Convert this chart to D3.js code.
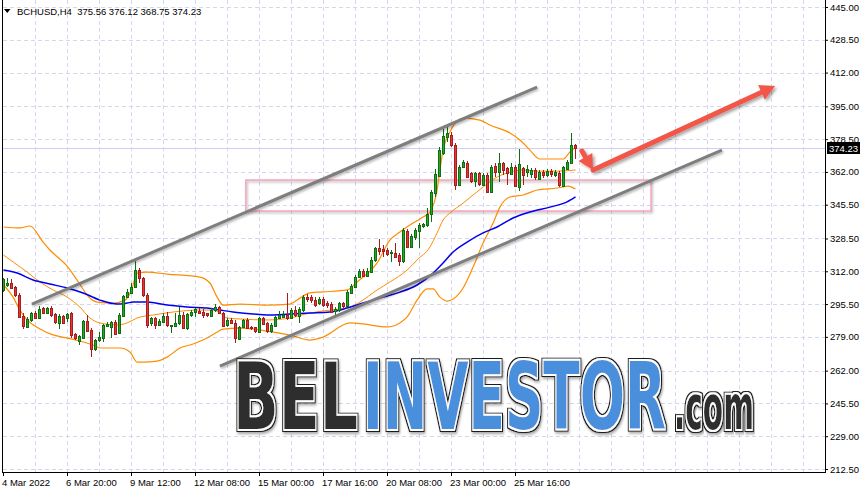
<!DOCTYPE html>
<html><head><meta charset="utf-8">
<script src="https://cdn.jsdelivr.net/npm/d3@7"></script>
<style>html,body{margin:0;padding:0;background:#fff;overflow:hidden}svg{display:block}</style>
</head><body><svg id="c" width="866" height="493"></svg>
<script>
const symbolTitle = "BCHUSD,H4";
const lastQuote = ["375.56", "376.12", "368.75", "374.23"];
const lastPrice = 374.23;

const opens = [302.2,305.3,306.3,303.9,300.1,289.6,284.1,287.5,291.2,288.6,293.7,291.2,293.7,290.3,285.8,289.6,288.6,290.8,280.4,276.9,
278.7,287.1,282.4,272.7,277.1,278.2,284.5,284.1,286.6,281.1,289.5,299.2,301.2,303.9,312.6,308.4,300.1,285.8,288.3,285.3,
286.6,289.5,284.4,284.4,285.8,290.0,283.3,290.0,291.2,292.2,291.7,290.8,289.5,292.2,293.8,291.2,284.9,287.5,285.8,278.2,
284.1,287.5,283.8,283.8,281.6,288.6,285.8,281.9,284.4,288.3,289.1,290.0,288.3,292.5,289.5,292.5,299.2,298.9,297.8,295.8,
298.3,296.2,295.5,291.6,292.5,296.2,294.7,301.2,304.2,309.3,312.1,309.8,311.8,317.7,323.9,323.0,322.7,321.0,321.3,320.2,
317.3,332.4,324.4,329.4,332.4,334.8,335.3,340.8,351.8,359.9,371.4,379.4,380.6,375.5,355.7,364.6,366.7,361.3,357.1,361.3,
355.4,360.4,352.0,365.0,362.1,366.7,363.8,361.3,364.6,354.6,363.8,361.6,361.0,363.0,358.8,362.1,360.4,362.6,360.4,361.3,
354.9,363.8,366.3,375.56];
const highs = [308.5,308.4,307.9,304.6,300.9,290.8,289.1,291.7,292.2,294.5,293.8,294.2,294.5,291.2,290.3,290.0,291.2,291.7,281.1,279.9,
287.5,290.0,283.3,277.7,281.6,285.3,286.6,287.1,287.5,290.8,300.1,302.9,305.9,317.3,313.5,309.3,300.9,289.1,289.1,287.8,
291.2,291.7,285.0,290.8,294.2,291.7,290.8,292.5,293.3,293.3,292.8,291.2,293.3,295.4,294.5,291.7,288.3,288.3,287.5,284.4,
287.8,288.3,284.4,284.1,289.1,289.1,286.6,285.8,289.5,292.0,292.0,301.2,293.3,294.5,294.2,300.0,300.4,300.0,299.2,299.2,
299.2,297.2,296.7,294.2,296.7,296.7,302.6,305.6,310.1,313.0,313.0,313.5,319.3,324.4,328.1,325.2,323.5,322.7,326.0,321.3,
333.6,333.1,330.7,333.6,336.1,336.1,343.7,352.9,363.5,374.7,384.8,385.6,382.3,376.4,365.5,368.0,367.7,362.1,362.1,362.1,
361.3,361.3,365.5,366.3,371.4,367.2,364.6,366.3,365.5,373.4,364.6,365.5,363.8,363.8,363.0,363.0,363.3,363.3,363.0,362.6,
365.0,368.0,381.8,376.12];
const lows = [301.7,304.3,303.4,299.2,288.3,282.8,283.8,286.6,287.8,288.3,290.8,290.3,289.1,285.5,283.0,285.5,286.6,278.2,277.4,274.9,
278.2,281.6,269.0,272.0,276.6,276.6,283.8,278.2,279.9,280.8,289.1,298.9,300.9,303.4,305.9,299.2,283.3,284.4,282.8,284.4,
285.8,284.1,280.8,284.1,284.9,282.8,282.4,289.1,289.1,290.5,288.3,289.1,289.1,291.5,290.5,284.4,284.1,285.3,276.0,277.7,
283.8,282.8,282.4,280.8,280.8,285.3,281.1,281.1,284.1,287.8,288.3,287.5,287.8,289.1,285.8,291.6,296.7,296.2,294.2,295.0,
294.2,293.3,290.8,289.5,291.6,293.3,294.2,300.5,303.9,308.4,309.3,309.3,311.3,316.8,320.2,319.3,319.7,316.8,318.5,314.6,
316.3,323.5,323.5,327.7,323.5,333.6,334.4,336.9,349.5,359.6,370.5,377.2,374.7,352.9,354.9,363.8,358.8,356.3,354.2,354.9,
354.9,351.2,351.5,359.6,357.1,360.4,355.4,360.4,354.2,352.6,355.4,359.6,358.8,357.9,357.9,358.8,359.3,359.3,359.3,354.6,
354.2,363.0,366.0,368.75];
const closes = [307.9,306.3,303.9,299.7,289.1,284.5,288.0,291.2,288.6,293.1,291.2,293.7,290.3,286.1,289.5,286.1,290.5,279.9,278.2,279.4,
287.1,282.1,272.7,277.4,278.7,284.9,285.5,286.6,280.8,290.0,299.5,301.7,304.3,312.6,308.4,299.7,285.0,288.3,284.9,287.1,
289.5,284.9,284.9,286.1,290.0,283.3,290.3,291.7,292.8,291.2,290.3,290.0,292.5,293.8,290.8,284.9,287.5,285.8,278.2,284.1,
287.5,283.6,283.1,281.6,288.6,285.8,281.9,284.9,289.1,290.0,290.0,288.3,292.5,290.0,292.8,299.2,298.0,297.5,295.5,298.0,
295.5,295.0,291.6,292.8,295.8,294.7,301.7,304.6,309.3,312.1,309.8,312.1,317.7,323.5,322.3,321.8,320.7,321.5,319.3,317.3,
332.8,324.4,329.7,332.8,335.3,335.8,340.6,352.0,361.2,373.0,380.1,381.4,375.5,355.4,364.6,367.2,359.6,357.1,361.3,355.7,
360.4,351.6,364.6,362.1,366.7,363.0,361.3,364.6,354.9,366.0,360.4,363.3,363.0,359.6,362.1,360.4,362.6,360.9,362.1,355.4,
364.6,367.2,375.5,374.23];

const xTickBars = [0, 16, 32, 48, 64, 80, 96, 112, 128];
const xTickLabels = ["4 Mar 2022", "6 Mar 20:00", "9 Mar 12:00", "12 Mar 08:00", "15 Mar 00:00",
  "17 Mar 16:00", "20 Mar 08:00", "23 Mar 00:00", "25 Mar 16:00"];
const yTickLabels = ["445.00", "428.50", "412.00", "395.00", "378.50", "362.00", "345.50", "328.50",
  "312.00", "295.50", "279.00", "262.00", "245.50", "229.00", "212.50"];

// Bollinger bands (bar index, price)
const bbUpper = [[0,334.3],[4.1,333.8],[6.6,334.8],[9.9,326.7],[11.6,322.7],[15.9,314.6],[18.4,307.6],[21.6,298.5],
  [23.4,296.5],[27.4,296.0],[30.4,297.5],[32,302.6],[33.4,311.1],[35.9,311.6],[40.9,310.6],[49.1,309.1],[51.6,306.1],
  [53.4,299.0],[54.9,295.0],[59.1,295.5],[65.9,295.0],[71.6,295.5],[74.1,298.5],[76.6,301.1],[79.9,301.6],[85.9,302.6],
  [88.4,306.6],[93.4,316.2],[96.6,327.7],[99.1,331.8],[102.4,336.3],[104.9,339.3],[106.6,341.8],[108.4,352.9],
  [109.1,363.0],[109.9,373.0],[111.6,382.1],[114.9,389.1],[119.1,388.1],[121.6,385.6],[126.6,381.6],[129.1,378.1],
  [131.6,373.0],[134.1,368.5],[139.9,368.5],[141.6,372.0],[143,374.5]];
const bbMiddle = [[0,320.2],[2.4,316.7],[5.9,311.6],[9.1,306.6],[12.4,302.6],[15.9,299.0],[19.1,294.0],[21.6,288.5],
  [24.1,286.0],[28.4,285.0],[30.9,286.0],[33.4,288.5],[37.4,290.0],[42.4,291.5],[49.1,292.5],[52.4,292.5],[54.1,291.0],
  [55.9,288.5],[59.1,288.0],[65.9,287.5],[71.6,288.5],[76.6,291.0],[81.6,292.5],[86.6,294.0],[89.1,296.5],[93.4,302.6],
  [96.6,306.6],[100.9,312.6],[103.4,317.7],[106.6,324.2],[108.4,331.3],[109.9,337.8],[111.6,341.3],[114.9,346.3],
  [117.4,350.4],[119.9,354.4],[123.4,359.4],[126.6,361.9],[129.9,363.0],[133.4,362.4],[138.4,362.4],[143,363.0]];
const bbLower = [[0,305.1],[2.4,299.0],[4.1,292.5],[5.9,287.5],[9.1,283.0],[12.4,280.0],[15.9,278.4],[19.1,276.9],
  [22.4,274.9],[24.1,273.4],[29.1,273.4],[31.6,271.4],[33.4,266.3],[34.9,266.3],[38.4,266.8],[40.9,268.8],[44.1,273.4],
  [47.4,275.4],[50.9,278.4],[53.4,281.4],[54.9,282.9],[59.1,283.4],[65.9,281.9],[71.6,279.9],[76.6,277.4],[79.9,278.9],
  [86.6,286.0],[89.9,285.5],[95.9,284.0],[99.1,286.0],[100.9,289.0],[103.4,297.5],[105.9,303.1],[107.4,303.1],
  [109.1,299.0],[110.9,297.0],[112.4,298.0],[114.9,303.6],[117.4,314.1],[119.9,326.2],[122.4,336.3],[124.1,344.3],
  [126.6,349.4],[129.9,350.4],[133.4,352.9],[138.4,353.9],[139.9,354.4],[141.1,354.9],[143,353.4]];
// Moving average (blue)
const maLine = [[0,312.6],[3.4,311.1],[7.4,307.6],[11.6,305.6],[15.9,303.6],[19.9,301.1],[24.1,297.5],[28.4,295.5],
  [30.9,296.0],[32.4,296.5],[35.9,296.5],[40.9,295.0],[45.9,294.0],[50.9,293.5],[54.1,292.5],[57.4,291.5],[62.4,290.5],
  [65.9,290.0],[71.6,290.5],[76.6,291.0],[81.6,291.5],[85.9,293.5],[89.9,296.0],[94.9,299.0],[99.1,301.5],[103.4,305.1],
  [107.4,311.1],[109.9,316.2],[112.4,321.7],[115.9,326.7],[119.9,331.3],[123.4,334.3],[127.4,338.8],[131.6,341.8],
  [136.6,344.3],[140.9,346.9],[143,349.4]];

// drawn objects (bar index, price)
const channelUpper = [[7.1, 295.5], [133.4, 404.7]];
const channelLower = [[54.1, 264.3], [179.6, 373.0]];
const zoneBars = [60.6, 161.9];
const zonePrices = [342.3, 357.9];
const arrowPts = [[144.6, 372.5], [147.4, 363.0], [192.9, 405.2]];
const watermarkParts = ["BEL", "INVESTOR", ".com"];

const svg = d3.select("#c");
const W = 866, H = 493;
const left = 2.5, right = 825.5, bottom = 472.5;

const x = d3.scaleLinear().domain([0, 143]).range([3.5, 575.5]);
const y = d3.scaleLinear().domain([212.5, 445]).range([469, 7]);
const crisp = v => Math.round(v) + 0.5;

const defs = svg.append("defs");
defs.append("filter").attr("id", "sh").attr("x", "-5%").attr("y", "-20%").attr("width", "110%").attr("height", "140%")
  .append("feDropShadow").attr("dx", 2).attr("dy", 2).attr("stdDeviation", 1.5)
  .attr("flood-color", "#000").attr("flood-opacity", 0.35);
defs.append("filter").attr("id", "sh2").attr("x", "-5%").attr("y", "-50%").attr("width", "110%").attr("height", "200%")
  .append("feDropShadow").attr("dx", 1).attr("dy", 1.5).attr("stdDeviation", 1.2)
  .attr("flood-color", "#000").attr("flood-opacity", 0.3);
// outline filter for the watermark: dark outer ring, white inner ring, soft shadow
const of = defs.append("filter").attr("id", "outl").attr("x", "-5%").attr("y", "-20%").attr("width", "112%").attr("height", "145%");
of.append("feMorphology").attr("in", "SourceAlpha").attr("operator", "dilate").attr("radius", 3).attr("result", "d3");
of.append("feFlood").attr("flood-color", "#1a1a1a").attr("result", "fdark");
of.append("feComposite").attr("in", "fdark").attr("in2", "d3").attr("operator", "in").attr("result", "dark");
of.append("feMorphology").attr("in", "SourceAlpha").attr("operator", "dilate").attr("radius", 1.5).attr("result", "d15");
of.append("feFlood").attr("flood-color", "#ffffff").attr("result", "fwhite");
of.append("feComposite").attr("in", "fwhite").attr("in2", "d15").attr("operator", "in").attr("result", "white");
of.append("feOffset").attr("in", "d3").attr("dx", 2).attr("dy", 2).attr("result", "off");
of.append("feGaussianBlur").attr("in", "off").attr("stdDeviation", 1.5).attr("result", "blur");
of.append("feFlood").attr("flood-color", "#000").attr("flood-opacity", 0.35).attr("result", "fsh");
of.append("feComposite").attr("in", "fsh").attr("in2", "blur").attr("operator", "in").attr("result", "shadow");
const fm = of.append("feMerge");
["shadow", "dark", "white", "SourceGraphic"].forEach(n => fm.append("feMergeNode").attr("in", n));

svg.append("rect").attr("width", W).attr("height", H).attr("fill", "#fff");

// grid
const yTickVals = yTickLabels.map(Number);
const grid = svg.append("g").attr("stroke", "#d6d6ee").attr("stroke-dasharray", "4,3").attr("shape-rendering", "crispEdges");
grid.selectAll("line.h").data(yTickVals).join("line").attr("class", "h")
  .attr("x1", left).attr("x2", right).attr("y1", d => crisp(y(d))).attr("y2", d => crisp(y(d)));
const vGrid = d3.range(8, 204, 8);
grid.selectAll("line.v").data(vGrid).join("line").attr("class", "v")
  .attr("x1", d => x(d)).attr("x2", d => x(d)).attr("y1", 0).attr("y2", bottom);

// current price line
svg.append("line").attr("x1", left).attr("x2", right)
  .attr("y1", crisp(y(lastPrice))).attr("y2", crisp(y(lastPrice)))
  .attr("stroke", "#cfcff2").attr("shape-rendering", "crispEdges");

// zone rectangle
svg.append("rect").attr("x", x(zoneBars[0])).attr("y", y(zonePrices[1]))
  .attr("width", x(zoneBars[1]) - x(zoneBars[0])).attr("height", y(zonePrices[0]) - y(zonePrices[1]))
  .attr("fill", "none").attr("stroke", "#f5a3b9").attr("stroke-width", 1.5).attr("filter", "url(#sh2)");

const line = d3.line().x(d => x(d[0])).y(d => y(d[1])).curve(d3.curveMonotoneX);
svg.append("path").attr("d", line(bbUpper)).attr("fill", "none").attr("stroke", "#ff8c00").attr("stroke-width", 1.2);
svg.append("path").attr("d", line(bbMiddle)).attr("fill", "none").attr("stroke", "#ff8c00").attr("stroke-width", 1);
svg.append("path").attr("d", line(bbLower)).attr("fill", "none").attr("stroke", "#ff8c00").attr("stroke-width", 1.2);
svg.append("path").attr("d", line(maLine)).attr("fill", "none").attr("stroke", "#0000f0").attr("stroke-width", 1.5);

// candles
const candles = svg.append("g").attr("shape-rendering", "crispEdges");
const idx = d3.range(opens.length);
candles.selectAll("line").data(idx).join("line")
  .attr("x1", i => Math.floor(x(i)) + 0.5).attr("x2", i => Math.floor(x(i)) + 0.5)
  .attr("y1", i => y(highs[i])).attr("y2", i => y(lows[i]))
  .attr("stroke", i => closes[i] >= opens[i] ? "#0f6e0f" : "#a81c1c");
candles.selectAll("rect").data(idx).join("rect")
  .attr("x", i => Math.floor(x(i)) - 0.5)
  .attr("y", i => Math.round(y(Math.max(opens[i], closes[i]))) + 0.5)
  .attr("width", 2)
  .attr("height", i => Math.max(1, Math.round(Math.abs(y(opens[i]) - y(closes[i])))))
  .attr("fill", i => closes[i] >= opens[i] ? "#22a822" : "#e23838")
  .attr("stroke", i => closes[i] >= opens[i] ? "#0f6e0f" : "#a81c1c");

// channel lines
[channelUpper, channelLower].forEach(c => {
  svg.append("line").attr("x1", x(c[0][0])).attr("y1", y(c[0][1])).attr("x2", x(c[1][0])).attr("y2", y(c[1][1]))
    .attr("stroke", "#7e7e7e").attr("stroke-width", 3).attr("filter", "url(#sh2)");
});

// arrow
const ap = arrowPts.map(p => [x(p[0]), y(p[1])]);
const ag = svg.append("g").attr("filter", "url(#sh)");
function arrowSeg(a, b) {
  const ang = Math.atan2(b[1] - a[1], b[0] - a[0]);
  const L = 15, Wd = 8;
  const bx = b[0] - L * Math.cos(ang), by = b[1] - L * Math.sin(ang);
  ag.append("line").attr("x1", a[0]).attr("y1", a[1]).attr("x2", bx + 2 * Math.cos(ang)).attr("y2", by + 2 * Math.sin(ang))
    .attr("stroke", "#f2564a").attr("stroke-width", 5).attr("stroke-linecap", "round");
  ag.append("path").attr("d", `M${b[0]},${b[1]}L${bx + Wd * Math.sin(ang)},${by - Wd * Math.cos(ang)}L${bx - Wd * Math.sin(ang)},${by + Wd * Math.cos(ang)}Z`)
    .attr("fill", "#f2564a");
}
arrowSeg(ap[0], ap[1]);
arrowSeg(ap[1], ap[2]);

// frame
svg.append("path").attr("d", `M${left},0V${bottom}H${right}V0`).attr("fill", "none").attr("stroke", "#000")
  .attr("shape-rendering", "crispEdges");

const font = "'Liberation Sans', Arial, sans-serif";
// right axis
const yAxis = d3.axisRight(y).tickValues(yTickVals).tickFormat((d, i) => yTickLabels[i]).tickSize(3).tickPadding(2);
const ya = svg.append("g").attr("transform", `translate(${right - 0.5},0)`).call(yAxis);
ya.select(".domain").remove();
ya.selectAll("text").attr("font-family", font).attr("font-size", 9.5).attr("fill", "#000");
ya.selectAll("line").attr("stroke", "#000");

// bottom axis
const xAxis = d3.axisBottom(x).tickValues(xTickBars).tickFormat((d, i) => xTickLabels[i]).tickSize(4).tickPadding(3);
const xa = svg.append("g").attr("transform", `translate(${-0.5},${bottom - 0.5})`).call(xAxis);
xa.select(".domain").remove();
xa.selectAll("text").attr("font-family", font).attr("font-size", 9.5).attr("fill", "#000")
  .attr("text-anchor", "start").attr("dx", -1.5);
xa.selectAll("line").attr("stroke", "#000");

// price label
const py = y(lastPrice);
svg.append("rect").attr("x", 827).attr("y", Math.round(py) - 6).attr("width", 33).attr("height", 12).attr("fill", "#000");
svg.append("text").attr("x", 829).attr("y", Math.round(py) + 3.5).attr("font-family", font).attr("font-size", 9.5)
  .attr("fill", "#fff").text(lastPrice.toFixed(2));

// title
svg.append("path").attr("d", "M4,9L10.5,9L7.25,13Z").attr("fill", "#000");
svg.append("text").attr("x", 17).attr("y", 15).attr("font-family", font).attr("font-size", 9.5).attr("fill", "#000")
  .style("white-space", "pre").text(symbolTitle + "  " + lastQuote.join(" "));

// watermark: each part scaled horizontally to its target width
const wfont = "'Liberation Sans Narrow', 'DejaVu Sans Condensed', 'Liberation Sans', sans-serif";
const wm = [
  { t: watermarkParts[0], x: 233, len: 125, fs: 93, fill: "#2e2e2e" },
  { t: watermarkParts[1], x: 363, len: 303, fs: 93, fill: "#4a8fdc" },
  { t: watermarkParts[2], x: 674, len: 80, fs: 62, fill: "#2e2e2e" }
];
const wg = svg.append("g");
wm.forEach(d => {
  const t = wg.append("text").attr("x", 0).attr("y", 0).attr("font-family", wfont)
    .attr("font-weight", "bold").attr("font-size", d.fs).attr("fill", d.fill).attr("filter", "url(#outl)")
    .text(d.t);
  const natural = t.node().getComputedTextLength();
  t.attr("transform", `translate(${d.x},429) scale(${d.len / natural},1)`);
});
</script></body></html>
